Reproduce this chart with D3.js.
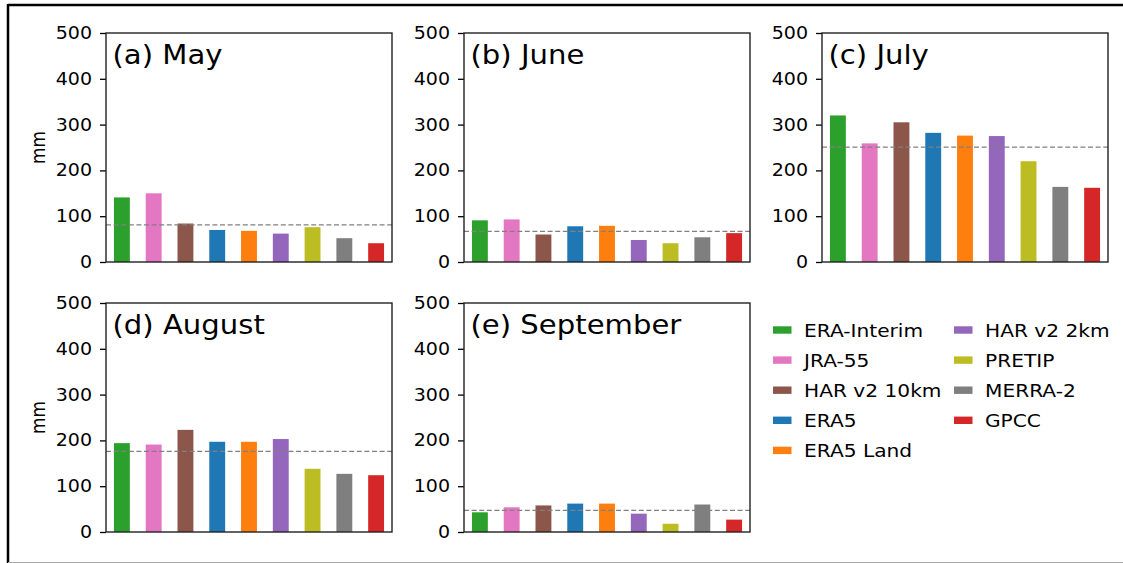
<!DOCTYPE html>
<html>
<head>
<meta charset="utf-8">
<script src="https://cdn.jsdelivr.net/npm/d3@7"></script>
<style>
  body { margin: 0; background: white; }
  svg text { font-family: 'DejaVu Sans', sans-serif; fill: #000; }
</style>
</head>
<body>
<svg id="svgMonths"></svg>
<script>
// DATA ////////////////////////////////////////////////////////////////////////

var datasets = ['ERA-Interim', 'JRA-55', 'HAR v2 10km', 'ERA5', 'ERA5 Land',
    'HAR v2 2km', 'PRETIP', 'MERRA-2', 'GPCC'];

var may_values = [141, 150, 84, 70, 68, 62, 76, 52, 41];
var june_values = [91, 93, 60, 78, 79, 48, 41, 54, 63];
var july_values = [320, 259, 305, 282, 276, 275, 220, 164, 162];
var august_values = [194, 191, 223, 197, 197, 203, 138, 127, 124];
var september_values = [43, 54, 58, 62, 62, 40, 18, 60, 27];

// dashed reference line, one per month
var ref_values = [81, 67, 251, 176, 47];

var panel_titles = ['(a) May', '(b) June', '(c) July', '(d) August', '(e) September'];
var y_ticks = [0, 100, 200, 300, 400, 500];

var colours = ['#2ca02c', '#e377c2', '#8c564b', '#1f77b4', '#ff7f0e',
    '#9467bd', '#bcbd22', '#7f7f7f', '#d62728'];


// SETUP ////////////////////////////////////////////////////////////////////////

const WIDTH = 1123, HEIGHT = 563;
const PANEL_W = 286, PANEL_H = 229;
const PANEL_LEFT = [106, 464, 822];
const PANEL_TOP = [33, 303];
const TICK_FONT = 17, TITLE_FONT = 26, LEGEND_FONT = 18;
const STRETCH = 1.12; // the picture is a bit wider than tall

var month_values = [may_values, june_values, july_values, august_values, september_values];

var svg = d3.select('#svgMonths')
    .attr('width', WIDTH)
    .attr('height', HEIGHT)

// frame left over from the screenshot
svg.append('line').attr('x1', 8).attr('x2', WIDTH).attr('y1', 5).attr('y2', 5)
    .attr('stroke', '#000').attr('stroke-width', 2.5)
svg.append('line').attr('x1', 8).attr('x2', 8).attr('y1', 4).attr('y2', HEIGHT)
    .attr('stroke', '#000').attr('stroke-width', 2.5)
svg.append('line').attr('x1', 8).attr('x2', WIDTH).attr('y1', 562.5).attr('y2', 562.5)
    .attr('stroke', '#aaa').attr('stroke-width', 1)

var x = d3.scaleBand()
    .domain(datasets)
    .range([0, PANEL_W])
    .paddingInner(0.5)
    .paddingOuter(0.25)

var y = d3.scaleLinear().domain([0, 500]).range([PANEL_H, 0]);

function stretched(px, py) {
    return 'translate(' + px + ',' + py + ') scale(' + STRETCH + ',1)';
}


function drawPanel(i) {
    var left = PANEL_LEFT[i % 3];
    var top = PANEL_TOP[Math.floor(i / 3)];
    var g = svg.append('g').attr('transform', 'translate(' + left + ',' + top + ')');

    var rows = datasets.map(function (d, j) {
        return { name: d, value: month_values[i][j], colour: colours[j] };
    });

    g.selectAll('rect.bar')
        .data(rows)
        .enter()
        .append('rect')
        .attr('class', 'bar')
        .attr('x', function (d) { return x(d.name) })
        .attr('y', function (d) { return y(d.value) })
        .attr('width', x.bandwidth())
        .attr('height', function (d) { return PANEL_H - y(d.value) })
        .attr('fill', function (d) { return d.colour })

    // reference line
    g.append('line')
        .attr('x1', 0)
        .attr('x2', PANEL_W)
        .attr('y1', y(ref_values[i]))
        .attr('y2', y(ref_values[i]))
        .attr('stroke', '#808080')
        .attr('stroke-width', 1.3)
        .attr('stroke-dasharray', '5,2.6')

    // left axis
    var axis = g.append('g')
        .call(d3.axisLeft(y).tickValues(y_ticks).tickSize(6).tickPadding(8).tickFormat(d3.format('d')))
    axis.select('.domain').remove()
    axis.selectAll('line').attr('stroke', '#000').attr('stroke-width', 1.3)
    axis.selectAll('text')
        .attr('x', 0)
        .attr('transform', stretched(-14, 0))
        .style('font-size', TICK_FONT + 'px')
        .style('font-family', 'DejaVu Sans')
        .attr('fill', '#000')

    // frame
    g.append('rect')
        .attr('x', 0).attr('y', 0)
        .attr('width', PANEL_W).attr('height', PANEL_H)
        .attr('fill', 'none')
        .attr('stroke', '#222')
        .attr('stroke-width', 1.4)

    g.append('text')
        .text(panel_titles[i])
        .attr('transform', stretched(6.5, 31))
        .style('font-size', TITLE_FONT + 'px')

    if (i % 3 == 0) {
        g.append('text')
            .text('mm')
            .attr('transform', 'translate(' + (-61) + ',' + (PANEL_H / 2) + ') rotate(-90) scale(1,' + STRETCH + ')')
            .style('text-anchor', 'middle')
            .style('font-size', TICK_FONT + 'px')
    }
}

function drawLegend() {
    var legend = svg.append('g').attr('transform', 'translate(773,330)');

    var items = legend.selectAll('g')
        .data(datasets)
        .enter()
        .append('g')
        .attr('transform', function (d, j) {
            var col = j < 5 ? 0 : 1;
            var row = j < 5 ? j : j - 5;
            return 'translate(' + (col * 181) + ',' + (row * 30.1) + ')';
        })

    items.append('rect')
        .attr('x', 0).attr('y', -3.7)
        .attr('width', 18.5).attr('height', 7.4)
        .attr('fill', function (d, j) { return colours[j] })

    items.append('text')
        .text(function (d) { return d })
        .attr('transform', stretched(31, LEGEND_FONT * 0.365))
        .style('font-size', LEGEND_FONT + 'px')
}

for (var i = 0; i < 5; i++) drawPanel(i);
drawLegend();
</script>
</body>
</html>
